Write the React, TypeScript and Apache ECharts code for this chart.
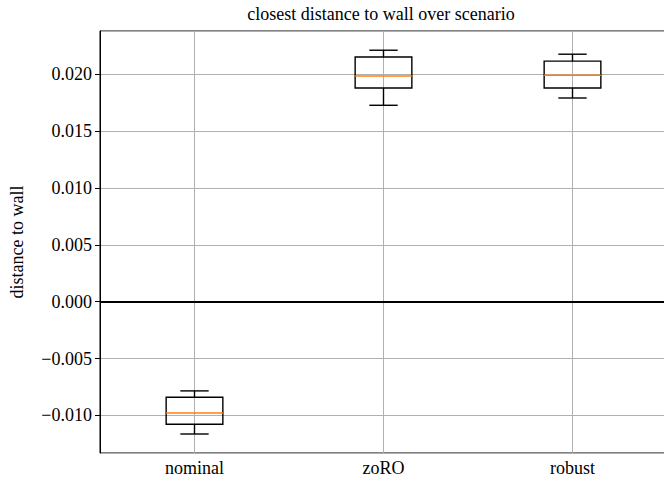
import React, { useEffect, useRef } from "react";
import * as echarts from "echarts";

const categories = ["nominal", "zoRO", "robust"];
// [whisker low, Q1, median, Q3, whisker high]
const boxStats = [
  [-0.01163, -0.01077, -0.00978, -0.0084, -0.00784],
  [0.01727, 0.01879, 0.01985, 0.02152, 0.02211],
  [0.01791, 0.01879, 0.01991, 0.02115, 0.02176],
];
const yMin = -0.0133;
const yMax = 0.0238;
const refLineValue = 0;

const FONT = "Liberation Serif";

function fmt(v: number) {
  const s = Math.abs(v).toFixed(3);
  if (Math.abs(v) < 1e-9) return "0.000";
  return v < 0 ? "\u2212" + s : s;
}

export default function App() {
  const ref = useRef<HTMLDivElement>(null);
  useEffect(() => {
    document.body.style.margin = "0";
    const chart = echarts.init(ref.current!, undefined, { renderer: "svg" });
    const data = boxStats.map((s, i) => [i, ...s]);
    chart.setOption({
      animation: false,
      backgroundColor: "#ffffff",
      title: {
        text: "closest distance to wall over scenario",
        left: 376,
        top: 0,
        textAlign: "center",
        textStyle: { fontFamily: FONT, fontSize: 18, fontWeight: "normal", color: "#000" },
      },
      grid: {
        left: 100,
        top: 31,
        right: -3,
        bottom: 26,
        outerBoundsMode: "none",
        containLabel: false,
        show: true,
        borderColor: "#000",
        borderWidth: 1,
        backgroundColor: "transparent",
      },
      xAxis: {
        type: "category",
        data: categories,
        boundaryGap: true,
        axisLine: { show: true, lineStyle: { color: "#000", width: 1 } },
        axisTick: { show: true, alignWithLabel: true, length: 5, lineStyle: { color: "#000" } },
        axisLabel: { fontFamily: FONT, fontSize: 18, lineHeight: 18, color: "#000", margin: 6 },
        splitLine: { show: false },
      },
      yAxis: {
        type: "value",
        min: yMin,
        max: yMax,
        splitNumber: 7,
        name: "distance to wall",
        nameLocation: "middle",
        nameGap: 74,
        nameRotate: 90,
        nameTextStyle: { fontFamily: FONT, fontSize: 18, color: "#000" },
        axisLine: { show: true, lineStyle: { color: "#000", width: 1 } },
        axisTick: { show: true, length: 5, lineStyle: { color: "#000" } },
        axisLabel: {
          fontFamily: FONT,
          fontSize: 18,
          color: "#000",
          margin: 8,
          showMinLabel: false,
          showMaxLabel: false,
          formatter: (v: number) => fmt(v),
        },
        splitLine: { show: true, lineStyle: { color: "#b0b0b0", width: 1 } },
      },
      series: [
        {
          type: "custom",
          data,
          encode: { x: 0, y: [1, 2, 3, 4, 5] },
          renderItem: (params: any, api: any) => {
            const cs = params.coordSys;
            const idx = api.value(0);
            const lo = api.coord([idx, api.value(1)]);
            const q1 = api.coord([idx, api.value(2)]);
            const med = api.coord([idx, api.value(3)]);
            const q3 = api.coord([idx, api.value(4)]);
            const hi = api.coord([idx, api.value(5)]);
            const band = api.size([1, 0])[0];
            const x = lo[0];
            const hw = band * 0.15;
            const cw = band * 0.075;
            const black = { stroke: "#000", lineWidth: 1.4, fill: "none" };
            return {
              type: "group",
              children: [
                {
                  type: "line",
                  shape: { x1: x, y1: cs.y, x2: x, y2: cs.y + cs.height },
                  style: { stroke: "#b0b0b0", lineWidth: 1 },
                },
                { type: "line", shape: { x1: x, y1: lo[1], x2: x, y2: q1[1] }, style: black },
                { type: "line", shape: { x1: x, y1: q3[1], x2: x, y2: hi[1] }, style: black },
                { type: "line", shape: { x1: x - cw, y1: lo[1], x2: x + cw, y2: lo[1] }, style: black },
                { type: "line", shape: { x1: x - cw, y1: hi[1], x2: x + cw, y2: hi[1] }, style: black },
                {
                  type: "rect",
                  shape: { x: x - hw, y: q3[1], width: 2 * hw, height: q1[1] - q3[1] },
                  style: { stroke: "#000", lineWidth: 1.4, fill: "none" },
                },
                {
                  type: "line",
                  shape: { x1: x - hw, y1: med[1], x2: x + hw, y2: med[1] },
                  style: { stroke: "#ff7f0e", lineWidth: 1.4 },
                },
              ],
            };
          },
          markLine: {
            silent: true,
            symbol: "none",
            label: { show: false },
            lineStyle: { color: "#000", width: 2, type: "solid" },
            data: [{ yAxis: refLineValue }],
            z: 10,
          },
          z: 5,
        },
      ],
    });
    return () => chart.dispose();
  }, []);
  return <div ref={ref} style={{ width: 664, height: 479 }} />;
}
